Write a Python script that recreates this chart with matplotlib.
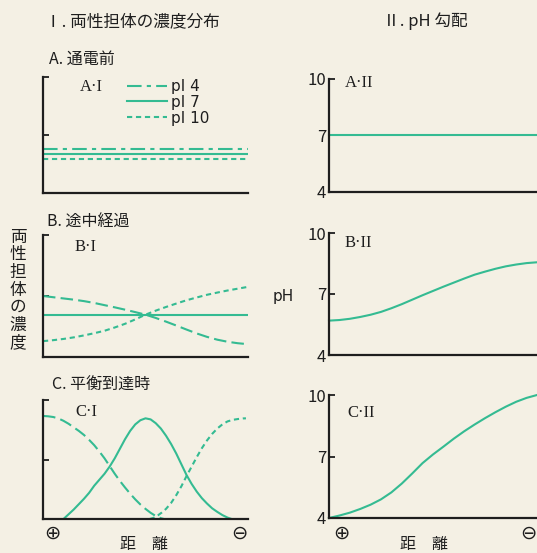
import numpy as np
import matplotlib.pyplot as plt

plt.rcParams['font.family'] = ['Noto Sans CJK JP', 'DejaVu Sans']

W, H = 537, 553
BG = '#f4f0e4'
GREEN = '#34bb92'
INK = '#1e1e1e'

# series names
names = ['pI 4', 'pI 7', 'pI 10']

# A. before current (flat)
a_dist = [0.0, 1.0]
a_pi4 = [0.377, 0.377]
a_pi7 = [0.336, 0.336]
a_pi10 = [0.293, 0.293]

# B. midway
b_dist = [0.0, 0.05, 0.1, 0.15, 0.2, 0.25, 0.3, 0.35, 0.4, 0.45, 0.5,
          0.55, 0.6, 0.65, 0.7, 0.75, 0.8, 0.85, 0.9, 0.95, 1.0]
b_pi4 = [0.50, 0.49, 0.48, 0.47, 0.458, 0.443, 0.425, 0.407, 0.388, 0.368, 0.347,
         0.32, 0.29, 0.258, 0.225, 0.193, 0.165, 0.142, 0.125, 0.113, 0.105]
b_pi7 = [0.347] * 21
b_pi10 = [0.13, 0.138, 0.148, 0.161, 0.177, 0.195, 0.215, 0.242, 0.272, 0.308, 0.347,
          0.38, 0.41, 0.438, 0.465, 0.488, 0.51, 0.528, 0.545, 0.56, 0.575]

# C. equilibrium
c_dist4 = [0.0, 0.025, 0.05, 0.075, 0.1, 0.125, 0.15, 0.175, 0.2, 0.225, 0.25, 0.275,
           0.3, 0.325, 0.35, 0.375, 0.4, 0.425, 0.45, 0.475, 0.5, 0.525, 0.55, 0.575, 0.59]
c_pi4 = [0.866, 0.863, 0.857, 0.845, 0.825, 0.80, 0.77, 0.74, 0.706, 0.665, 0.62, 0.567,
         0.51, 0.445, 0.38, 0.32, 0.265, 0.213, 0.165, 0.122, 0.085, 0.052, 0.025, 0.007, 0.0]
c_dist7 = [0.1, 0.125, 0.15, 0.175, 0.2, 0.225, 0.25, 0.275, 0.3, 0.325, 0.35, 0.375,
           0.4, 0.425, 0.45, 0.475, 0.5, 0.525, 0.55, 0.575, 0.6, 0.625, 0.65, 0.675,
           0.7, 0.725, 0.75, 0.775, 0.8, 0.825, 0.85, 0.875, 0.9, 0.92]
c_pi7 = [0.0, 0.04, 0.08, 0.125, 0.17, 0.22, 0.28, 0.33, 0.38, 0.44, 0.51, 0.59,
         0.67, 0.74, 0.795, 0.83, 0.846, 0.837, 0.805, 0.76, 0.70, 0.63, 0.55, 0.46,
         0.37, 0.295, 0.23, 0.175, 0.13, 0.09, 0.06, 0.033, 0.012, 0.0]
c_dist10 = [0.52, 0.54, 0.56, 0.58, 0.6, 0.625, 0.65, 0.675, 0.7, 0.725, 0.75,
            0.775, 0.8, 0.825, 0.85, 0.875, 0.9, 0.925, 0.95, 0.975, 0.99]
c_pi10 = [0.0, 0.01, 0.03, 0.055, 0.085, 0.135, 0.20, 0.275, 0.36, 0.44, 0.52,
          0.595, 0.66, 0.715, 0.76, 0.795, 0.82, 0.833, 0.84, 0.845, 0.846]

# pH gradients
pa_dist = [0.0, 1.0]
pa_ph = [7.0, 7.0]
pb_dist = [0.0, 0.05, 0.1, 0.15, 0.2, 0.25, 0.3, 0.35, 0.4, 0.45, 0.5,
           0.55, 0.6, 0.65, 0.7, 0.75, 0.8, 0.85, 0.9, 0.95, 1.0]
pb_ph = [5.69, 5.72, 5.78, 5.87, 5.98, 6.12, 6.30, 6.50, 6.72, 6.94, 7.15,
         7.36, 7.56, 7.76, 7.95, 8.10, 8.24, 8.36, 8.45, 8.52, 8.56]
pc_dist = pb_dist
pc_ph = [4.00, 4.12, 4.26, 4.44, 4.65, 4.91, 5.25, 5.68, 6.17, 6.68, 7.10,
         7.48, 7.87, 8.23, 8.56, 8.87, 9.16, 9.43, 9.67, 9.86, 10.0]


def box(l, t, r, b):
    return [l / W, 1 - b / H, (r - l) / W, (b - t) / H]


def style(ax):
    ax.set_facecolor('none')
    for s in ['top', 'right']:
        ax.spines[s].set_visible(False)
    for s in ['left', 'bottom']:
        ax.spines[s].set_linewidth(1.6)
        ax.spines[s].set_color(INK)
    ax.set_xlim(0, 1)
    ax.set_xticks([])
    ax.tick_params(axis='y', direction='in', length=4, width=1.3, color=INK, pad=2,
                   labelsize=12, labelcolor=INK)


fig = plt.figure(figsize=(W / 100, H / 100), dpi=100, facecolor=BG)

dashdot = (0, (7, 2.5, 2, 2.5))
longdash = (0, (6, 2.5))
shortdash = (0, (2.5, 1.8))
lw = 1.5

left_boxes = [box(43, 77, 248, 193), box(43, 235, 248, 357), box(43, 400, 248, 519)]
right_boxes = [box(329, 79, 537, 192), box(329, 233, 537, 355), box(329, 395, 537, 518)]

axL = [fig.add_axes(b) for b in left_boxes]
axR = [fig.add_axes(b) for b in right_boxes]

for ax in axL:
    style(ax)
    ax.set_ylim(0, 1)
    ax.set_yticks([0.5, 1.0])
    ax.set_yticklabels([])
for ax in axR:
    style(ax)
    ax.set_ylim(4, 10)
    ax.set_yticks([4, 7, 10])
    ax.set_yticklabels(['4', '7', '10'])

# left panels
ax = axL[0]
ax.plot(a_dist, a_pi4, color=GREEN, lw=lw, ls=dashdot, label=names[0])
ax.plot(a_dist, a_pi7, color=GREEN, lw=lw, ls='-', label=names[1])
ax.plot(a_dist, a_pi10, color=GREEN, lw=lw, ls=shortdash, label=names[2])
ax.legend(loc='upper left', bbox_to_anchor=(127 / W, 1 - 79 / H),
          bbox_transform=fig.transFigure, frameon=False,
          handlelength=2.6, handletextpad=0.3, labelspacing=0.05,
          borderpad=0, borderaxespad=0, labelcolor=INK,
          prop={'family': 'DejaVu Sans', 'size': 11})

ax = axL[1]
ax.plot(b_dist, b_pi4, color=GREEN, lw=lw, ls=longdash)
ax.plot(b_dist, b_pi7, color=GREEN, lw=lw, ls='-')
ax.plot(b_dist, b_pi10, color=GREEN, lw=lw, ls=shortdash)

ax = axL[2]
ax.plot(c_dist4, c_pi4, color=GREEN, lw=lw, ls=longdash)
ax.plot(c_dist7, c_pi7, color=GREEN, lw=lw, ls='-')
ax.plot(c_dist10, c_pi10, color=GREEN, lw=lw, ls=shortdash)

# right panels
axR[0].plot(pa_dist, pa_ph, color=GREEN, lw=lw, clip_on=False)
axR[1].plot(pb_dist, pb_ph, color=GREEN, lw=lw, clip_on=False)
axR[2].plot(pc_dist, pc_ph, color=GREEN, lw=lw, clip_on=False)


# texts
def ftext(x, y, s, **kw):
    kw.setdefault('color', INK)
    kw.setdefault('va', 'center')
    fig.text(x / W, 1 - y / H, s, **kw)


ftext(45, 22, 'Ⅰ. 両性担体の濃度分布', fontsize=12)
ftext(383, 21, 'Ⅱ. pH 勾配', fontsize=12)
ftext(49, 59, 'A. 通電前', fontsize=11.5)
ftext(47, 222, 'B. 途中経過', fontsize=11.5)
ftext(52, 385, 'C. 平衡到達時', fontsize=11.5)

serif = ['Liberation Serif', 'DejaVu Serif']
ftext(80, 87, 'A·I', fontsize=12, family=serif)
ftext(75, 247, 'B·I', fontsize=12, family=serif)
ftext(75, 412, 'C·I', fontsize=12, family=serif)
ftext(345, 83, 'A·II', fontsize=12, family=serif)
ftext(345, 243, 'B·II', fontsize=12, family=serif)
ftext(347, 413, 'C·II', fontsize=12, family=serif)

ftext(18, 290, '\n'.join('両性担体の濃度'), fontsize=12, ha='center', linespacing=1.05)
ftext(283, 297, 'pH', fontsize=11, ha='center', family=['DejaVu Sans'])

for x in (52, 341):
    ftext(x, 533, '⊕', fontsize=14, ha='center', family=['DejaVu Sans'])
for x in (239, 528):
    ftext(x, 533, '⊖', fontsize=14, ha='center', family=['DejaVu Sans'])
ftext(144, 544, '距　離', fontsize=11.5, ha='center')
ftext(424, 544, '距　離', fontsize=11.5, ha='center')

fig.savefig('out.png', dpi=100, facecolor=BG)
